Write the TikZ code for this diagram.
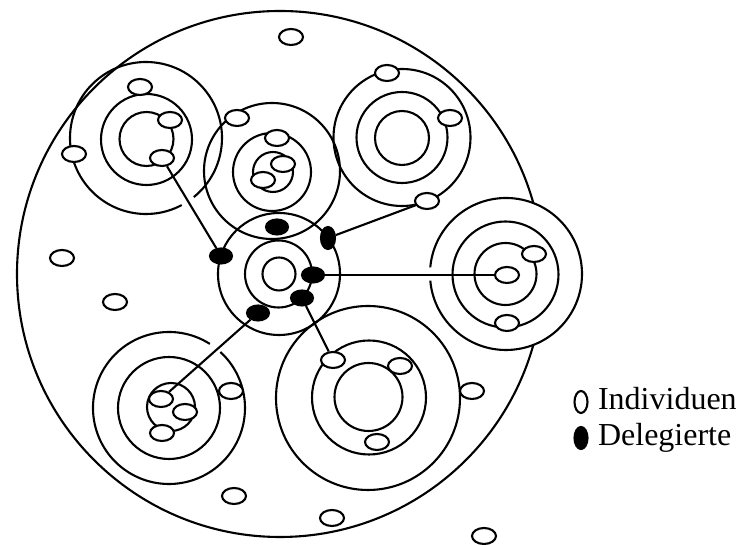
\documentclass[tikz,border=0pt]{standalone}
\usepackage{fontspec}
\setmainfont{Liberation Serif}
\usetikzlibrary{shapes.geometric}
\begin{document}
\begin{tikzpicture}[x=1pt,y=1pt,line width=2.1pt,
  indiv/.style={ellipse,draw,fill=white,line width=2.1pt,minimum width=24pt,minimum height=16pt,inner sep=0pt},
  deleg/.style={ellipse,draw,fill=black,line width=2.1pt,minimum width=22pt,minimum height=15pt,inner sep=0pt},
  delegv/.style={deleg,minimum width=14pt,minimum height=22pt},
  ring/.style={line width=2.1pt},
  conn/.style={line width=2.1pt},
  legtext/.style={anchor=base west,inner sep=0pt,font=\fontsize{32}{38}\selectfont}]
\useasboundingbox (0,0) rectangle (740,545);
% big circle
\draw[ring] (280,271) circle[radius=263pt];
% group A (top left)
\draw[ring] (146,407) ++(-51:76pt) arc[start angle=-51,end angle=298,radius=76pt];
\draw[ring] (146.5,405.5) circle[radius=45.5pt];
\draw[ring] (146.5,406) circle[radius=27pt];
% group B (top centre)
\draw[ring] (272,374) circle[radius=68pt];
\draw[ring] (272,373) circle[radius=39pt];
\draw[ring] (273,373) circle[radius=20pt];
% group F (top right)
\draw[ring] (402,407.5) circle[radius=68.5pt];
\draw[ring] (402,407.5) circle[radius=45.5pt];
\draw[ring] (402,407) circle[radius=27pt];
% group C (centre)
\draw[ring] (279,271) circle[radius=61pt];
\draw[ring] (278.5,271) circle[radius=33.5pt];
\draw[ring] (279,271) circle[radius=16.5pt];
% group E (right), covering the big circle
\fill[white] (506,271) circle[radius=76pt];
\draw[ring] (506,271) ++(-175:76pt) arc[start angle=-175,end angle=175,radius=76pt];
\draw[ring] (505.5,270.5) circle[radius=53pt];
\draw[ring] (505.5,271) circle[radius=31pt];
% group D (bottom left)
\draw[ring] (169,137) ++(57.5:76pt) arc[start angle=57.5,end angle=407.5,radius=76pt];
\draw[ring] (169,137) circle[radius=51pt];
\draw[ring] (171,138) circle[radius=24pt];
% group G (bottom centre)
\draw[ring] (368,147) circle[radius=92pt];
\draw[ring] (369,147.5) circle[radius=57pt];
\draw[ring] (368.5,148) circle[radius=34pt];
% individuals
\node[indiv] (i1) at (291,508) {};
\node[indiv] (a1) at (140,458) {};
\node[indiv] (a2) at (170,425) {};
\node[indiv] (a3) at (162,387) {};
\node[indiv] (a4) at (74,391) {};
\node[indiv] (i2) at (62,287) {};
\node[indiv] (i3) at (115,243) {};
\node[indiv] (b1) at (237,427) {};
\node[indiv] (b2) at (277,407) {};
\node[indiv] (b3) at (283,381) {};
\node[indiv] (b4) at (263,365) {};
\node[indiv] (f1) at (387,472) {};
\node[indiv] (f2) at (450,427) {};
\node[indiv] (f3) at (427,344) {};
\node[indiv] (e1) at (507,270) {};
\node[indiv] (e2) at (534,291) {};
\node[indiv] (e3) at (507,222) {};
\node[indiv] (d1) at (161,146) {};
\node[indiv] (d2) at (185,133) {};
\node[indiv] (d3) at (162,112) {};
\node[indiv] (d4) at (231,154) {};
\node[indiv] (g1) at (333,185) {};
\node[indiv] (g2) at (400,179) {};
\node[indiv] (g3) at (377,103) {};
\node[indiv] (i4) at (472,154) {};
\node[indiv] (i5) at (234,49) {};
\node[indiv] (i6) at (332,27) {};
\node[indiv] (i7) at (484,9) {};
% delegates
\node[deleg] (c1) at (277,318) {};
\node[delegv] (c2) at (328,307) {};
\node[deleg] (c3) at (221,289) {};
\node[deleg] (c4) at (313,270) {};
\node[deleg] (c5) at (302,247) {};
\node[deleg] (c6) at (258,232) {};
% connectors
\draw[conn] (c3) -- (a3);
\draw[conn] (c2) -- (f3);
\draw[conn] (c4) -- (e1);
\draw[conn] (c5) -- (g1);
\draw[conn] (c6) -- (d1);
% legend
\node[indiv,minimum width=13pt,minimum height=22pt] (l1) at (581,143) {};
\node[deleg,minimum width=13pt,minimum height=22pt] (l2) at (581,107) {};
\node[legtext] (t1) at (597,135) {Individuen};
\node[legtext] (t2) at (597,99) {Delegierte};
\end{tikzpicture}
\end{document}
